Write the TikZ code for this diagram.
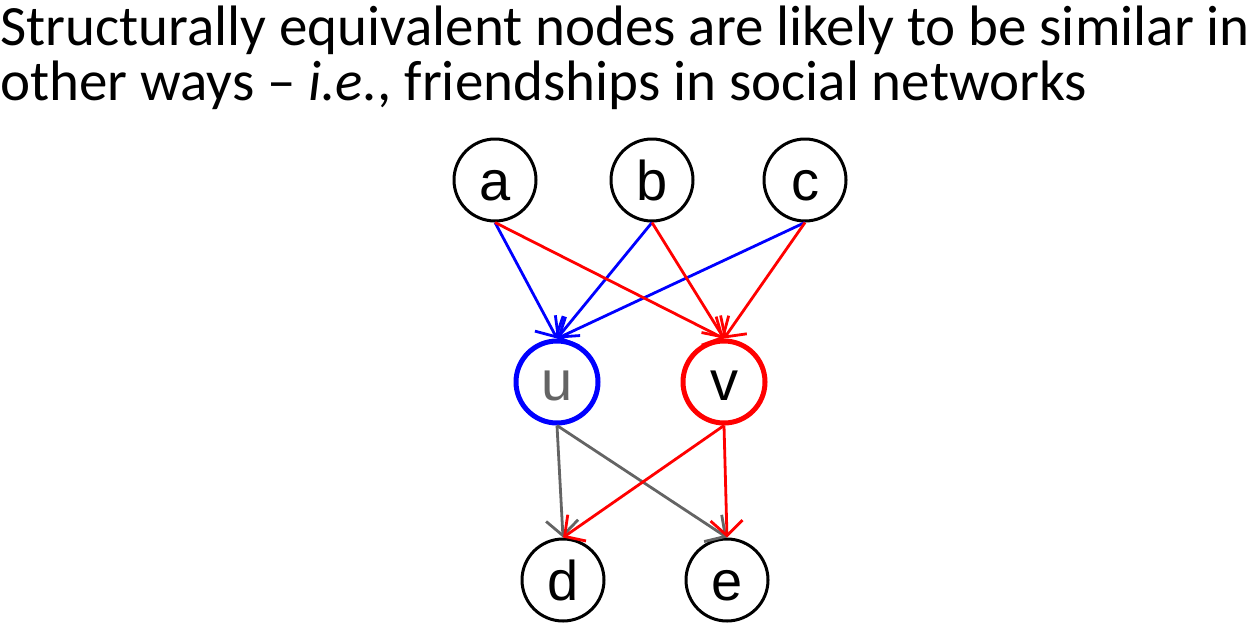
\documentclass[tikz,border=0pt]{standalone}
\usepackage{fontspec}
\setmainfont{Carlito}
\newfontfamily\arialfont{Liberation Sans}
\usetikzlibrary{arrows.meta}
\definecolor{pblue}{RGB}{0,0,255}
\definecolor{pred}{RGB}{255,0,0}
\definecolor{pgray}{RGB}{100,100,100}
\begin{document}
\begin{tikzpicture}[x=1pt,y=-1pt,
  vnode/.style={circle,draw=black,line width=3pt,minimum size=82pt,inner sep=0pt,
    text height=40pt,text depth=0pt,
    font=\arialfont\fontsize{56}{56}\selectfont},
  edge/.style={line width=2.8pt,-{Straight Barb[length=15pt,width=32pt,line width=2.8pt]}},
  title/.style={anchor=north west,inner sep=0pt,align=left,font=\fontsize{57}{55}\selectfont}]
\useasboundingbox (0,0) rectangle (1260,632);
\node[title] (t) at (0,6) {Structurally equivalent nodes are likely to be similar in\\other ways -- \textit{i.e.}, friendships in social networks};
\node[vnode] (a) at (495,180) {a};
\node[vnode] (b) at (652,180) {b};
\node[vnode] (c) at (805,180) {c};
\node[vnode,draw=pblue,line width=5pt,text=pgray,text height=36pt] (u) at (557,382) {u};
\node[vnode,draw=pred,line width=5pt,text height=36pt] (v) at (724,382) {v};
\node[vnode] (d) at (563,580) {d};
\node[vnode] (e) at (727,580) {e};
\draw[edge,pblue] (a.south) -- (u.north);
\draw[edge,pblue] (b.south) -- (u.north);
\draw[edge,pblue] (c.south) -- (u.north);
\draw[edge,pred] (a.south) -- (v.north);
\draw[edge,pred] (b.south) -- (v.north);
\draw[edge,pred] (c.south) -- (v.north);
\draw[edge,pgray] (u.south) -- (d.north);
\draw[edge,pgray] (u.south) -- (e.north);
\draw[edge,pred] (v.south) -- (d.north);
\draw[edge,pred] (v.south) -- (e.north);
\end{tikzpicture}
\end{document}
